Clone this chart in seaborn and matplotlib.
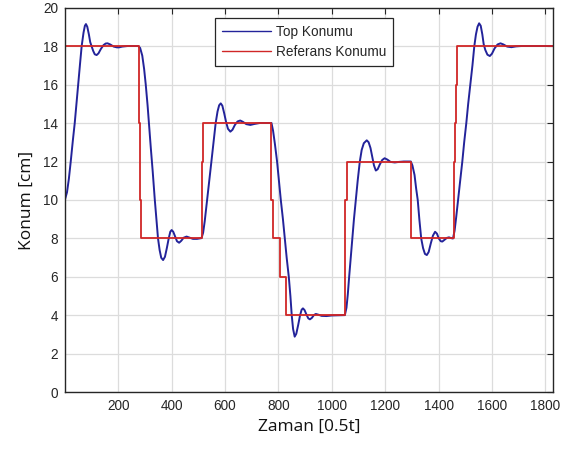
import matplotlib
matplotlib.use("Agg")
import matplotlib.pyplot as plt
import seaborn as sns
import pandas as pd

top_t = [0, 8, 15, 22, 30, 37, 44, 50, 57, 63, 70, 75, 79, 84, 90, 95, 100, 106, 112, 119,
         126, 135, 145, 153, 160, 170, 183, 195, 203, 215, 235, 275,
         282, 290, 297, 303, 310, 316, 322, 329, 337, 343, 349, 355, 361, 368, 375, 382, 389,
         395, 400, 406, 413, 420, 428, 436, 445, 456, 468, 480, 495, 512,
         518, 524, 533, 541, 549, 557, 565, 572, 578, 584, 590, 597, 604, 611, 620, 628, 637,
         647, 657, 667, 680, 695, 710, 730, 774,
         780, 787, 795, 802, 809, 817, 824, 831, 839, 845, 850, 855, 861, 867, 874, 881, 887,
         892, 898, 905, 912, 918, 925, 933, 940, 950, 962, 980, 1000, 1049,
         1055, 1060, 1065, 1071, 1077, 1083, 1090, 1097, 1105, 1112, 1120, 1131, 1138, 1145,
         1152, 1158, 1165, 1172, 1180, 1189, 1198, 1208, 1220, 1236, 1252, 1270, 1296,
         1302, 1310, 1316, 1322, 1328, 1335, 1342, 1349, 1356, 1363, 1371, 1379, 1387, 1394,
         1401, 1408, 1414, 1422, 1431, 1439, 1447, 1454,
         1460, 1466, 1473, 1481, 1489, 1496, 1504, 1511, 1519, 1527, 1534, 1540, 1546, 1552,
         1558, 1564, 1569, 1575, 1583, 1592, 1600, 1610, 1621, 1632, 1643, 1657, 1673, 1690,
         1710, 1830]
top_y = [10.0, 10.4, 11.1, 12.0, 13.1, 14.0, 15.1, 16.0, 17.1, 18.0, 18.7, 19.05, 19.14, 19.0,
         18.6, 18.2, 18.0, 17.75, 17.57, 17.53,
         17.62, 17.85, 18.05, 18.13, 18.14, 18.08, 17.97, 17.93, 17.93, 17.97, 18.0, 18.0,
         17.9, 17.5, 16.8, 16.0, 14.9, 13.8, 12.7, 11.5, 10.0, 9.0, 8.0, 7.4, 7.0, 6.88, 7.05,
         7.5, 8.0,
         8.35, 8.44, 8.35, 8.1, 7.86, 7.78, 7.88, 8.04, 8.1, 8.04, 7.98, 7.98, 8.02,
         8.3, 8.9, 10.0, 11.0, 12.0, 13.0, 14.0, 14.6, 14.92, 15.02, 14.9, 14.5, 14.05, 13.7,
         13.55, 13.65, 13.9,
         14.08, 14.13, 14.06, 13.94, 13.9, 13.95, 14.0, 14.0,
         13.6, 12.9, 12.0, 11.0, 10.0, 9.0, 8.0, 7.0, 6.0, 5.0, 4.0, 3.3, 2.9, 3.05, 3.5, 4.0,
         4.3,
         4.37, 4.28, 4.05, 3.85, 3.8, 3.87, 4.02, 4.08, 4.04, 3.98, 3.97, 4.0, 4.02,
         4.4, 5.1, 6.0, 7.0, 8.0, 9.0, 10.0, 11.0, 12.0, 12.6, 12.95, 13.1, 13.0, 12.7,
         12.2, 11.8, 11.53, 11.6, 11.85, 12.08, 12.17, 12.1, 11.98, 11.95, 11.98, 12.0, 12.0,
         11.8, 11.3, 10.6, 10.0, 9.0, 8.0, 7.5, 7.2, 7.14, 7.3, 7.75, 8.15, 8.35, 8.25,
         8.0, 7.86, 7.84, 7.93, 8.03, 8.06, 8.02, 8.0,
         8.4, 9.1, 10.0, 11.0, 12.0, 13.0, 14.0, 15.0, 16.0, 17.0, 18.0, 18.6, 19.0, 19.18,
         19.05, 18.6, 18.1, 17.8, 17.55, 17.48, 17.6, 17.88, 18.08, 18.14, 18.08, 17.97, 17.94,
         17.98, 18.0, 18.0]

# Red: reference position, step changes (start time, value)
ref_t = [0, 276, 280, 286, 512, 518, 773, 779, 806, 828, 1051, 1057, 1298, 1457, 1461, 1464,
         1469, 1830]
ref_y = [18, 14, 10, 8, 12, 14, 10, 8, 6, 4, 10, 12, 8, 12, 14, 16, 18, 18]

x_ticks = [200, 400, 600, 800, 1000, 1200, 1400, 1600, 1800]
y_ticks = [0, 2, 4, 6, 8, 10, 12, 14, 16, 18, 20]

x_label = "Zaman [0.5t]"
y_label = "Konum [cm]"
labels = ["Top Konumu", "Referans Konumu"]

sns.set_theme(style="whitegrid")
plt.rcParams["font.family"] = ["Liberation Sans", "DejaVu Sans"]

fig = plt.figure(figsize=(5.74, 4.53), dpi=100)
ax = fig.add_axes([0.113, 0.1336, 0.851, 0.8498])

top_df = pd.DataFrame({"t": top_t, "y": top_y})
ref_df = pd.DataFrame({"t": ref_t, "y": ref_y})

sns.lineplot(data=top_df, x="t", y="y", ax=ax, color="#23239a", linewidth=1.4,
             estimator=None, sort=False, label=labels[0])
sns.lineplot(data=ref_df, x="t", y="y", ax=ax, color="#d02626", linewidth=1.3,
             estimator=None, sort=False, drawstyle="steps-post", label=labels[1])

ax.set_xlim(0, 1830)
ax.set_ylim(0, 20)
ax.set_xticks(x_ticks)
ax.set_yticks(y_ticks)
ax.tick_params(axis="both", direction="in", length=4, width=0.8, labelsize=9.8,
               colors="#262626", top=True, right=True, pad=5)
ax.grid(True, color="#dcdcdc", linewidth=0.9)
for s in ax.spines.values():
    s.set_color("#262626")
    s.set_linewidth(1.0)

ax.set_xlabel(x_label, fontsize=12.5, family=["Open Sans", "DejaVu Sans"], color="#111111",
              labelpad=4)
ax.set_ylabel(y_label, fontsize=12.5, family=["Open Sans", "DejaVu Sans"], color="#111111",
              labelpad=6)

leg = ax.legend(loc="upper center", bbox_to_anchor=(0.49, 0.973), borderaxespad=0,
                fontsize=9.8, frameon=True, fancybox=False, edgecolor="#262626",
                framealpha=1, handlelength=3.6, borderpad=0.5, labelspacing=0.45,
                handletextpad=0.4)
leg.get_frame().set_linewidth(0.9)
for line in leg.get_lines():
    line.set_linewidth(1.0)

fig.savefig("out.png", dpi=100)
